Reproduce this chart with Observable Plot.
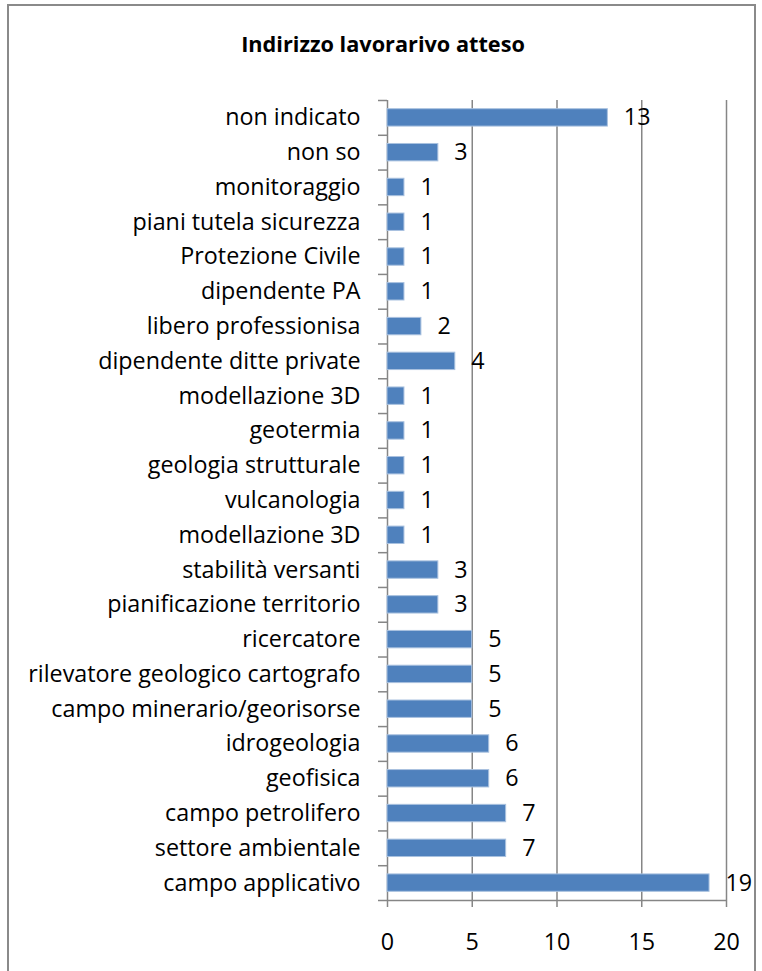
<!DOCTYPE html>
<html>
<head>
<meta charset="utf-8">
<script src="https://cdn.jsdelivr.net/npm/d3@7"></script>
<script src="https://cdn.jsdelivr.net/npm/@observablehq/plot@0.6"></script>
<style>
  html, body { margin: 0; padding: 0; background: #fff; }
  #wrap { position: relative; width: 762px; height: 971px; overflow: hidden; font-family: "Open Sans", Lato, sans-serif; }
  #border { position: absolute; left: 7px; top: 4px; width: 749px; height: 1000px; border: 2px solid #8a8a8a; box-sizing: border-box; }
  #title { position: absolute; left: 0; top: 33px; width: 766px; text-align: center; font-weight: bold; font-size: 21.7px; line-height: 22px; color: #000; }
  #chart { position: absolute; left: 0; top: 0; }
</style>
</head>
<body>
<div id="wrap">
  <div id="border"></div>
  <div id="chart"></div>
  <div id="title">Indirizzo lavorarivo atteso</div>
</div>
<script>
const categories = [
  "non indicato", "non so", "monitoraggio", "piani tutela sicurezza", "Protezione Civile",
  "dipendente PA", "libero professionisa", "dipendente ditte private", "modellazione 3D",
  "geotermia", "geologia strutturale", "vulcanologia", "modellazione 3D", "stabilità versanti",
  "pianificazione territorio", "ricercatore", "rilevatore geologico cartografo",
  "campo minerario/georisorse", "idrogeologia", "geofisica", "campo petrolifero",
  "settore ambientale", "campo applicativo"
];
const values = [13, 3, 1, 1, 1, 1, 2, 4, 1, 1, 1, 1, 1, 3, 3, 5, 5, 5, 6, 6, 7, 7, 19];
const xTicks = [0, 5, 10, 15, 20];

const data = categories.map((c, i) => ({i, c, v: values[i]}));
const n = categories.length;
const idx = d3.range(n);
const bounds = d3.range(n + 1).map(k => k - 0.5);
const FS = 23.3;

const plot = Plot.plot({
  width: 762,
  height: 971,
  marginLeft: 387,
  marginRight: 36,
  marginTop: 100,
  marginBottom: 71,
  style: {fontFamily: "'Open Sans', Lato, sans-serif", fontSize: FS + "px", color: "#000", background: "transparent"},
  x: {domain: [0, 20], label: null},
  y: {domain: [-0.5, n - 0.5], reverse: true, label: null},
  marks: [
    Plot.gridX(xTicks, {stroke: "#868686", strokeOpacity: 1, strokeWidth: 1.5}),
    Plot.ruleY([n - 0.5], {stroke: "#868686", strokeWidth: 1.5}),
    Plot.rectX(data, {x1: 0, x2: "v", y1: d => d.i - 0.25, y2: d => d.i + 0.25, fill: "#4F81BD", stroke: "#A9C1DF", strokeWidth: 1}),
    Plot.text(data, {x: "v", y: "i", text: d => String(d.v), dx: 16, textAnchor: "start", fontSize: FS, fill: "#000"}),
    Plot.axisY(idx, {label: null, tickSize: 0, tickPadding: 27, tickFormat: k => categories[k], fontSize: FS, fill: "#000"}),
    Plot.axisY(bounds, {label: null, tickSize: 9, tickFormat: () => "", stroke: "#868686", strokeWidth: 1.5}),
    Plot.axisX(xTicks, {label: null, anchor: "bottom", tickSize: 7, tickPadding: 26, fontSize: FS, fill: "#000", stroke: "#868686", strokeWidth: 1.5})
  ]
});
document.getElementById("chart").appendChild(plot);
</script>
</body>
</html>
